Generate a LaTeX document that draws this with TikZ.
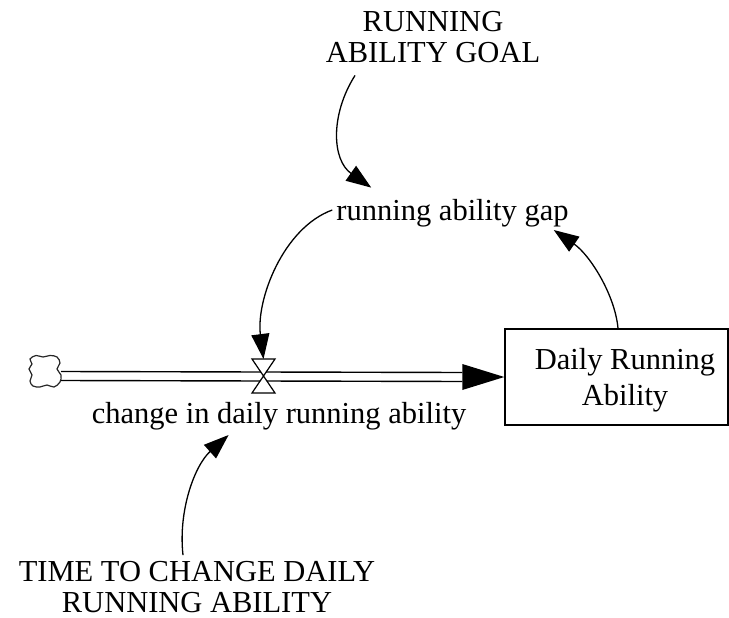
\documentclass[tikz,border=0pt]{standalone}
\usepackage{fontspec}
\setmainfont{Liberation Serif}
\usetikzlibrary{arrows.meta}
\begin{document}
\begin{tikzpicture}[x=1pt,y=-1pt,
  lbl/.style={font=\fontsize{30.5}{31}\selectfont, inner sep=0pt, align=center},
  link/.style={line width=1.3pt, -{Triangle[length=25pt,width=18pt]}},
  pipe/.style={line width=1.4pt},
  stockbox/.style={draw, line width=1.4pt, minimum width=223pt, minimum height=96pt, inner sep=0pt},
  valvestyle/.style={draw, line width=1.2pt, fill=white, line join=miter},
  cloudstyle/.style={draw=black!85, line width=1.2pt}
]
\useasboundingbox (0,0) rectangle (729,618);

% stock
\node[stockbox] (stock) at (616.5,377) {};
\node[lbl, font=\fontsize{30.5}{36}\selectfont] (stocklbl) at (625,380) {Daily Running\\Ability};

% cloud (source)
\draw[cloudstyle] plot[smooth cycle, tension=0.6] coordinates {
  (30,359) (36,355.5) (43,357) (50,355.5) (57,357) (60,363) (57,369) (61,375)
  (60,382) (54,387) (47,385) (40,387) (33,386) (30,381) (32,375) (29,369) (32,364)};
\coordinate (cloud) at (61,376);

% pipe
\coordinate (pipeend) at ([xshift=-42pt]stock.west);
\draw[pipe] ([yshift=4.5pt]cloud) -- ([yshift=4.5pt]pipeend);
\draw[pipe] ([yshift=-4.5pt]cloud) -- ([yshift=-4.5pt]pipeend);
\fill ([yshift=13pt]pipeend) -- (stock.west) -- ([yshift=-13pt]pipeend) -- cycle;

% valve
\coordinate (valve) at (263.5,376);
\draw[valvestyle] (valve) -- ++(-11.5,-17) -- ++(23,0) -- cycle;
\draw[valvestyle] (valve) -- ++(-11.5,17) -- ++(23,0) -- cycle;

% labels
\node[lbl] (goal) at (433,37.5) {RUNNING\\ABILITY GOAL};
\node[lbl, anchor=base] (gap) at (452.5,220) {running ability gap};
\node[lbl, anchor=base] (flowlbl) at (279,423) {change in daily running ability};
\node[lbl] (time) at (197,587) {TIME TO CHANGE DAILY\\RUNNING ABILITY};

% connectors
\draw[link] ([xshift=-78pt,yshift=-12pt]goal.south) .. controls (330,115) and (332,160) .. ([xshift=35pt,yshift=11pt]gap.north west);
\draw[link] ([xshift=-4pt,yshift=10pt]gap.base west) .. controls (283,228) and (256,300) .. ([yshift=17pt]valve);
\draw[link] ([xshift=1.5pt]stock.north) .. controls (615,295) and (590,255) .. ([xshift=-15pt,yshift=-10pt]gap.base east);
\draw[link] ([xshift=-14pt,yshift=6pt]time.north) .. controls (178,510) and (195,465) .. ([xshift=137pt,yshift=-12pt]flowlbl.base west);
\end{tikzpicture}
\end{document}
